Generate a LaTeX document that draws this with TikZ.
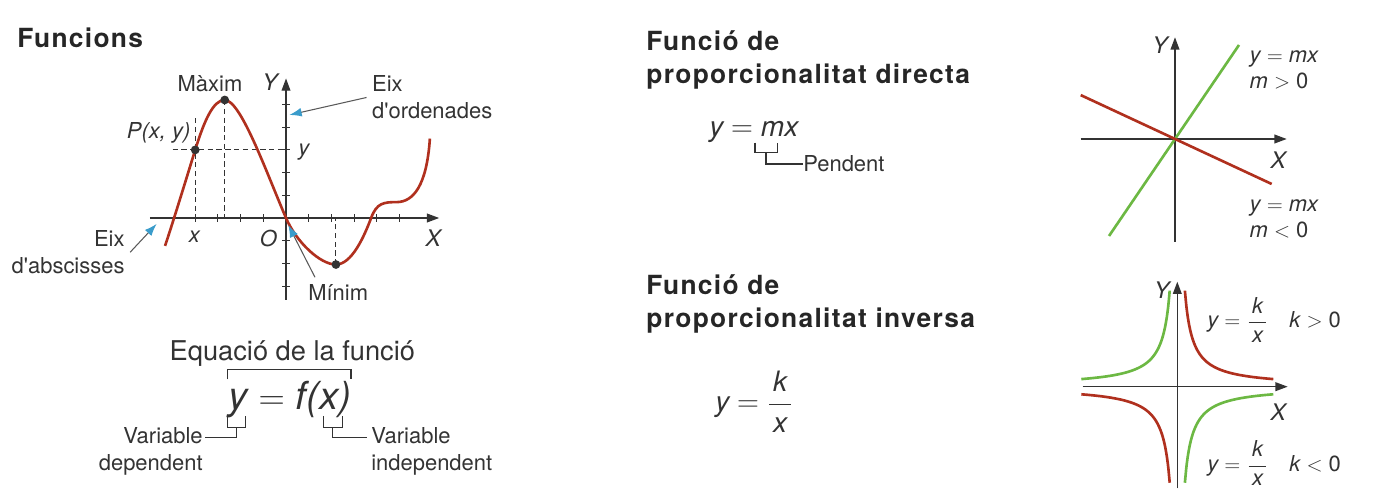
\documentclass[tikz,border=0pt]{standalone}
\usepackage{fontspec}
\setmainfont{TeX Gyre Heros}
\newfontfamily\titlefont{TeX Gyre Heros}[LetterSpace=5]
\usetikzlibrary{arrows.meta}

\definecolor{curvered}{HTML}{B0301E}
\definecolor{linegreen}{HTML}{6CB843}
\definecolor{pointblue}{HTML}{3A9CCB}
\definecolor{inkgray}{HTML}{333333}

\newcommand{\kfrac}{$\displaystyle\frac{\hbox to 0.8em{\hfil\itshape k\hfil}}{\hbox to 0.8em{\hfil\itshape x\hfil}}$}

\begin{document}
\begin{tikzpicture}[x=0.02cm, y=0.02cm,
  lbl/.style={font=\fontsize{12.5}{15.5}\selectfont, text=inkgray, inner sep=0pt},
  ttl/.style={font=\fontsize{15}{19}\selectfont\titlefont\bfseries, text=black!85, anchor=west, align=left, inner sep=0pt},
  eqn/.style={font=\fontsize{16}{18}\selectfont, text=inkgray, inner sep=0pt, anchor=west},
  tag/.style={font=\fontsize{12.5}{15}\selectfont, text=inkgray, anchor=west, align=left, inner sep=0pt},
  axlbl/.style={font=\fontsize{13}{13}\selectfont\itshape, text=inkgray, inner sep=0pt},
  axisline/.style={draw=inkgray, line width=0.75pt, -{Triangle[length=7pt,width=5pt]}},
  pointer/.style={draw=black!65, line width=0.6pt, -{Latex[length=7pt,width=5pt,color=pointblue]}},
  guide/.style={draw=inkgray, line width=0.6pt, dash pattern=on 3pt off 2pt},
  brack/.style={draw=inkgray, line width=0.6pt},
  dot/.style={circle, fill=inkgray, inner sep=0pt, minimum size=5pt},
  redcurve/.style={draw=curvered, line width=1.5pt},
  greencurve/.style={draw=linegreen, line width=1.5pt}]
  \useasboundingbox (0,0) rectangle (1373,496);

  % left panel: functions
  \node[ttl] (fnttl) at (17,457.7) {Funcions};

  \begin{scope}[shift={(286,278)}, x=0.454cm, y=0.454cm]
    \coordinate (O) at (0,0);
    \coordinate (P) at (-4,3);
    \coordinate (Max) at (-2.7,5.2);
    \coordinate (Min) at (2.2,-2.05);
    % axes and ticks
    \draw[axisline] (-6,0) -- (6.75,0);
    \draw[axisline] (0,-3.6) -- (0,6.15);
    \foreach \t in {-4,-3,-2,-1,1,2,3,4,5}
      \draw[inkgray, line width=0.6pt] (\t,-0.17) -- (\t,0.17);
    \foreach \t in {-3,-2,-1,1,2,3,4,5}
      \draw[inkgray, line width=0.6pt] (-0.17,\t) -- (0.17,\t);
    % dashed guides
    \draw[guide] (-5,3) -- (0,3);
    \draw[guide] (-4,4.4) -- (-4,0);
    \draw[guide] (Max) -- (Max |- O);
    \draw[guide] (Min) -- (Min |- O);
    % the curve
    \draw[redcurve] (-5.33,-1.23) .. controls (-4.95,-0.1) and (-4.25,2.2) .. (P)
      .. controls (-3.6,4.3) and (-3.2,5.2) .. (Max)
      .. controls (-2.0,5.2) and (-0.9,2.1) .. (O)
      .. controls (0.45,-1.05) and (1.5,-2.05) .. (Min)
      .. controls (2.9,-2.05) and (3.45,-0.8) .. (3.75,0)
      .. controls (4.0,0.67) and (4.3,0.7) .. (4.9,0.7)
      .. controls (5.6,0.72) and (6.2,1.4) .. (6.34,3.5);
    \node[dot] (pdot) at (P) {};
    \node[dot] (maxdot) at (Max) {};
    \node[dot] (mindot) at (Min) {};
    % labels
    \node[lbl] (maxlbl) at (-3.35,5.93) {Màxim};
    \node[axlbl] (ylbl) at (-0.7,6.0) {Y};
    \node[axlbl] (xlbl) at (6.49,-0.89) {X};
    \node[lbl, anchor=east] (plbl) at (-4.2,3.73) {\itshape P(x, y)};
    \node[lbl] (ytick) at (0.79,2.92) {\itshape y};
    \node[lbl] (xtick) at (-4.04,-0.82) {\itshape x};
    \node[lbl] (olbl) at (-0.78,-0.89) {\itshape O};
    \node[lbl, anchor=west, align=left] (eixord) at (3.78,5.31) {Eix\\d\textquotesingle ordenades};
    \node[lbl, anchor=east, align=right] (eixabs) at (-7.1,-1.51) {Eix\\d\textquotesingle abscisses};
    \node[lbl] (minlbl) at (2.3,-3.29) {Mínim};
    % pointers
    \coordinate (ordtip) at (0.15,4.54);
    \coordinate (abstip) at (-5.7,-0.26);
    \coordinate (mintip) at (0.1,-0.31);
    \draw[pointer] ([xshift=-3pt]eixord.west) -- (ordtip);
    \draw[pointer] ([xshift=3pt]eixabs.east) -- (abstip);
    \draw[pointer] ([shift={(4pt,4pt)}]minlbl.north west) -- (mintip);
  \end{scope}

  % equation of the function
  \node[lbl, font=\fontsize{15.5}{17}\selectfont] (eqttl) at (292.3,142.7) {Equació de la funció};
  \node[eqn, anchor=center, font=\fontsize{22}{22}\selectfont] (eqf) at (290,96) {{\itshape y} $=$ {\itshape f(x)}};
  \draw[brack] (227.7,116.7) -- (227.7,126.7) -- (351,126.7) -- (351,116.7);
  \draw[brack] (227.7,80) -- (227.7,68.7) -- (245.7,68.7) -- (245.7,80);
  \draw[brack] (323.3,80) -- (323.3,68.7) -- (342.3,68.7) -- (342.3,80);
  \node[lbl, anchor=east, align=right] (vdep) at (203,44.3) {Variable\\dependent};
  \node[lbl, anchor=west, align=left] (vindep) at (371,44.3) {Variable\\independent};
  \draw[brack] (236.7,68.7) -- (236.7,58.7) -- (205,58.7);
  \draw[brack] (332.3,68.7) -- (332.3,58.7) -- (367,58.7);

  % direct proportionality
  \node[ttl] (dirttl) at (646,436) {Funció de\\proporcionalitat directa};
  \node[eqn] (direq) at (709,364.3) {{\itshape y} $=$ {\itshape mx}};
  \node[lbl, anchor=west] (pend) at (803,332) {Pendent};
  \draw[brack] (755,353.3) -- (755,343.3) -- (777.7,343.3) -- (777.7,353.3);
  \draw[brack] (766,343.3) -- (766,332) -- (pend.west);

  \draw[axisline] (1080.7,357) -- (1286.7,357);
  \draw[axisline] (1175,254.3) -- (1175,458.7);
  \draw[greencurve] (1109,260) -- (1239,451);
  \draw[redcurve] (1080.7,400.9) -- (1271.7,312);
  \node[axlbl] (dirY) at (1160,451) {Y};
  \node[axlbl] (dirX) at (1278.3,336) {X};
  \node[tag] (mpos) at (1249.3,426) {{\itshape y} $=$ {\itshape mx}\\{\itshape m} $>$ 0};
  \node[tag] (mneg) at (1249.3,277.3) {{\itshape y} $=$ {\itshape mx}\\{\itshape m} $<$ 0};

  % inverse proportionality
  \node[ttl] (invttl) at (646,191.8) {Funció de\\proporcionalitat inversa};
  \node[eqn] (inveq) at (715,94.3) {{\itshape y} $=$ \kfrac};

  \draw[axisline] (1082.7,109.3) -- (1287.7,109.3);
  \draw[axisline] (1177.3,7.7) -- (1177.3,214.3);
  \begin{scope}[shift={(1177.3,109.3)}]
    \draw[redcurve] plot[smooth, domain=7.6:96, samples=60] (\x,{730/\x});
    \draw[redcurve] plot[smooth, domain=-96:-7.6, samples=60] (\x,{730/\x});
    \draw[greencurve] plot[smooth, domain=-96:-7.6, samples=60] (\x,{-730/\x});
    \draw[greencurve] plot[smooth, domain=7.6:96, samples=60] (\x,{-730/\x});
  \end{scope}
  \node[axlbl] (invY) at (1161.7,206) {Y};
  \node[axlbl] (invX) at (1278.3,84.3) {X};
  \node[tag] (kpos) at (1207,176) {{\itshape y} $=$ \kfrac\hspace{12pt}{\itshape k} $>$ 0};
  \node[tag] (kneg) at (1207,32.7) {{\itshape y} $=$ \kfrac\hspace{12pt}{\itshape k} $<$ 0};
\end{tikzpicture}
\end{document}
